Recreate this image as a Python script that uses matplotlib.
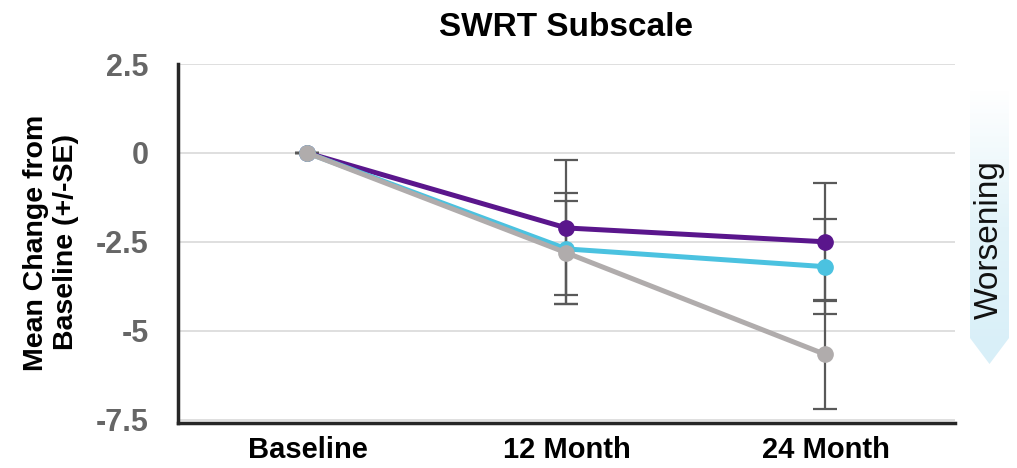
import matplotlib
matplotlib.use("Agg")
import matplotlib.pyplot as plt
import numpy as np
from matplotlib.patches import Polygon
from matplotlib.colors import LinearSegmentedColormap

plt.rcParams['font.family'] = ['Liberation Sans', 'DejaVu Sans']

categories = ["Baseline", "12 Month", "24 Month"]
purple_vals = [0.0, -2.11, -2.50]
purple_se = [0.0, 1.90, 1.66]
cyan_vals = [0.0, -2.70, -3.20]
cyan_se = [0.0, 1.56, 1.34]
gray_vals = [0.0, -2.81, -5.67]
gray_se = [0.0, 1.45, 1.52]
yticks = [2.5, 0, -2.5, -5, -7.5]
ytick_labels = ["2.5", "0", "-2.5", "-5", "-7.5"]

fig = plt.figure(figsize=(10.17, 4.68), dpi=100)
ax = fig.add_axes([0.175, 0.096, 0.764, 0.767])

x = np.arange(len(categories))
series = [
    (purple_vals, purple_se, "#5a168c"),
    (cyan_vals, cyan_se, "#4bc2e0"),
    (gray_vals, gray_se, "#b0acac"),
]
for vals, se, col in series:
    ax.errorbar(x, vals, yerr=se, fmt='none', ecolor="#595959",
                elinewidth=1.6, capsize=8.5, capthick=1.6, zorder=2)
for vals, se, col in series:
    ax.plot(x, vals, color=col, lw=3.6, marker='o', markersize=11,
            zorder=3, solid_capstyle='round')

ax.set_xlim(-0.5, 2.5)
ax.set_ylim(-7.6, 2.5)
ax.set_yticks(yticks)
ax.set_yticklabels(ytick_labels)
ax.set_xticks(x)
ax.set_xticklabels(categories)
ax.yaxis.grid(True, color="#d9d9d9", lw=1.2)
ax.set_axisbelow(True)
for s in ['top', 'right']:
    ax.spines[s].set_visible(False)
ax.spines['left'].set_color("#262626")
ax.spines['left'].set_linewidth(2.5)
ax.spines['bottom'].set_color("#262626")
ax.spines['bottom'].set_linewidth(2.5)
ax.tick_params(axis='both', length=0)
ax.tick_params(axis='y', pad=21, labelsize=22, labelcolor="#666666")
ax.tick_params(axis='x', pad=9, labelsize=21, labelcolor="#000000")
for lab in ax.get_yticklabels() + ax.get_xticklabels():
    lab.set_fontweight('bold')

ax.set_title("SWRT Subscale", fontsize=24, fontweight='bold', pad=20)
fig.text(0.05, 0.482, "Mean Change from\nBaseline (+/-SE)", rotation=90,
         ha='center', va='center', fontsize=20.5, fontweight='bold',
         linespacing=1.22)

# Worsening arrow
bx0, bx1 = 970 / 1017, 1009 / 1017
ytop = 1 - 90 / 468
ybody = 1 - 338 / 468
ytip = 1 - 364 / 468
cmap = LinearSegmentedColormap.from_list("w", ["#ffffff", "#e2f3f9", "#d8eff8"])
grad = np.linspace(0, 1, 256).reshape(-1, 1)
gax = fig.add_axes([0, 0, 1, 1], zorder=-1)
gax.set_xlim(0, 1)
gax.set_ylim(0, 1)
gax.axis('off')
im = gax.imshow(grad, cmap=cmap, aspect='auto',
                extent=[bx0, bx1, ytip, ytop], origin='upper')
poly2 = Polygon([(bx0, ytop), (bx1, ytop), (bx1, ybody),
                 ((bx0 + bx1) / 2, ytip), (bx0, ybody)],
                closed=True, transform=gax.transData,
                facecolor='none', edgecolor='none')
gax.add_patch(poly2)
im.set_clip_path(poly2)
fig.text((bx0 + bx1) / 2, 1 - 240 / 468, "Worsening", rotation=90,
         ha='center', va='center', fontsize=24, color='#111111')

fig.savefig("out.png", dpi=100)
